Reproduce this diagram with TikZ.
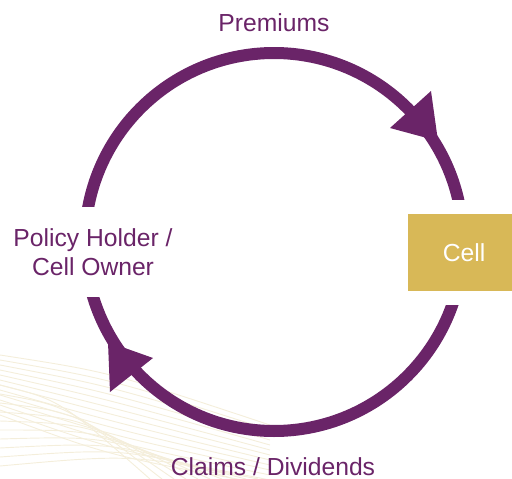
\documentclass[tikz,border=0pt]{standalone}
\usepackage{fontspec}
\setmainfont{Liberation Sans}
\definecolor{plum}{HTML}{6A2468}
\definecolor{gold}{HTML}{D8B857}
\definecolor{cream}{HTML}{F4EEDB}
\begin{document}
\begin{tikzpicture}[x=0.75pt,y=0.75pt,
  lab/.style={text=plum, font=\fontsize{18.5}{21.75}\selectfont, align=center, inner sep=0pt},
  ring/.style={draw=plum, line width=9pt},
  head/.style={fill=plum},
  deco/.style={draw=cream, line width=0.7pt}]
\useasboundingbox (0,0) rectangle (512,-479);
% decorative background lines
\foreach \k in {0,...,12} {
  \draw[deco] (0,-355-5*\k) .. controls (110,-372-7*\k) .. (270,-425-5*\k);
}
\foreach \k in {0,...,9} {
  \draw[deco] (0,-385-9*\k) .. controls (60+8*\k,-400-6*\k) .. (150+12*\k,-479);
}
% ring
\coordinate (c) at (274,-242);
\draw[ring] (c) circle[radius=189];
% gaps in the ring
\fill[white] (55,-207) rectangle (115,-297);
\fill[white] (435,-200) rectangle (495,-305);
% arrowheads
\fill[head] (431,-91) -- (390,-128) -- (438,-141) -- cycle;
\fill[head] (108,-342) -- (153,-358) -- (110,-392) -- cycle;
% labels
\node[lab, anchor=base] (prem) at (274,-31) {Premiums};
\node[lab, anchor=base] (claims) at (273,-475) {Claims / Dividends};
\node[lab] (holder) at (93,-252.5) {Policy Holder /\\Cell Owner};
\node[fill=gold, minimum width=78pt, minimum height=57.75pt, inner sep=0pt,
  text=white, font=\fontsize{18.5}{21.75}\selectfont] (cell) at (460,-252.5) {\hspace{6pt}Cell};
\end{tikzpicture}
\end{document}
